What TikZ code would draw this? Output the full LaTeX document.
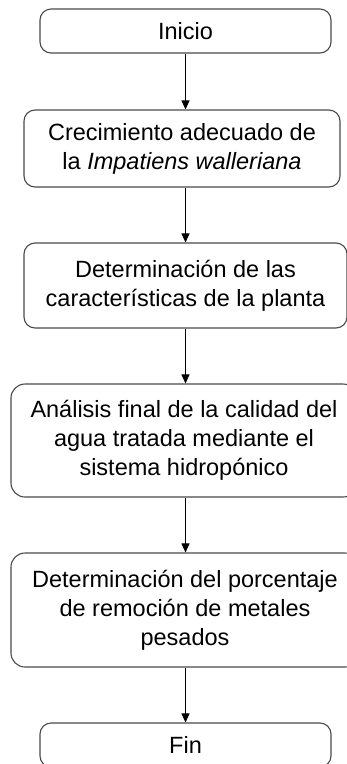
\documentclass[tikz,border=0pt]{standalone}
\usepackage{fontspec}
\setmainfont{Liberation Sans}
\usetikzlibrary{arrows.meta}
\definecolor{boxline}{HTML}{4A4A4A}
\tikzset{
  stepbox/.style={draw=boxline, line width=1.1pt, rounded corners=11pt, align=center,
    inner sep=0pt, font=\fontsize{23.5}{29}\selectfont, text=black},
  arr/.style={draw=black, line width=0.9pt, -{Triangle[width=8pt,length=9pt]}}
}
\begin{document}
\begin{tikzpicture}[x=1pt,y=1pt]
\useasboundingbox (0,0) rectangle (347,-764);
\clip (0,0) rectangle (347,-764);
\node[stepbox, minimum width=291pt, minimum height=44pt] (b1) at (185.5,-31) {Inicio};
\node[stepbox, minimum width=316pt, minimum height=77pt] (b2) at (182,-148.5) {Crecimiento adecuado de\\la \textit{Impatiens walleriana}};
\node[stepbox, minimum width=323pt, minimum height=85pt] (b3) at (185.5,-285.5) {Determinación de las\\características de la planta};
\node[stepbox, minimum width=346pt, minimum height=113pt, rounded corners=14pt] (b4) at (184,-440.5) {Análisis final de la calidad del\\agua tratada mediante el\\sistema hidropónico};
\node[stepbox, minimum width=348pt, minimum height=114pt, rounded corners=14pt] (b5) at (185,-610) {Determinación del porcentaje\\de remoción de metales\\pesados};
\node[stepbox, minimum width=291pt, minimum height=44pt] (b6) at (185.5,-745) {Fin};
\coordinate (ax) at (185.5,0);
\draw[arr] (b1.south) -- (b2.north -| ax);
\draw[arr] (b2.south -| ax) -- (b3.north -| ax);
\draw[arr] (b3.south -| ax) -- (b4.north -| ax);
\draw[arr] (b4.south -| ax) -- (b5.north -| ax);
\draw[arr] (b5.south -| ax) -- (b6.north -| ax);
\end{tikzpicture}
\end{document}
